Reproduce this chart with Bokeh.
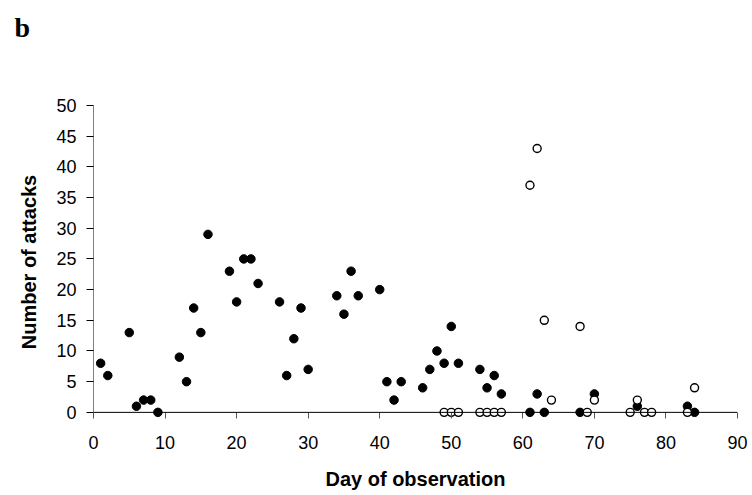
from bokeh.plotting import figure
from bokeh.models import (Range1d, SingleIntervalTicker, Span, ColumnDataSource,
                          Title)
from bokeh.embed import file_html
from bokeh.resources import INLINE

# Data
filled_days = [1, 2, 5, 6, 7, 8, 9, 12, 13, 14, 15, 16, 19, 20, 21, 22, 23,
               26, 27, 28, 29, 30, 34, 35, 36, 37, 40, 41, 42, 43, 46, 47, 48,
               49, 50, 51, 54, 55, 56, 57, 61, 62, 63, 68, 70, 76, 83, 84]
filled_attacks = [8, 6, 13, 1, 2, 2, 0, 9, 5, 17, 13, 29, 23, 18, 25, 25, 21,
                  18, 6, 12, 17, 7, 19, 16, 23, 19, 20, 5, 2, 5, 4, 7, 10,
                  8, 14, 8, 7, 4, 6, 3, 0, 3, 0, 0, 3, 1, 1, 0]
open_days = [49, 50, 51, 54, 55, 56, 57, 61, 62, 63, 64, 68, 69, 70, 75, 76,
             77, 78, 83, 84]
open_attacks = [0, 0, 0, 0, 0, 0, 0, 37, 43, 15, 2, 14, 0, 2, 0, 2, 0, 0, 0, 4]

x_title = "Day of observation"
y_title = "Number of attacks"
panel_letter = "b"

FONT = "Liberation Sans"

p = figure(width=752, height=495, output_backend="svg", toolbar_location=None,
           x_range=Range1d(0, 90), y_range=Range1d(-1, 50),
           min_border_left=93, min_border_right=15, min_border_top=105,
           min_border_bottom=77, title=None)
p.outline_line_color = None
p.grid.grid_line_color = None
p.background_fill_color = "white"
p.border_fill_color = "white"

# spacer title next to the frame, then the panel letter further out
p.add_layout(Title(text=" ", text_font_size="10px", standoff=39,
                   text_color="white"), "above")
p.add_layout(Title(text=panel_letter, text_font="Liberation Serif",
                   text_font_size="28px", text_font_style="bold",
                   text_color="black", align="left", vertical_align="top",
                   offset=-79, standoff=18), "above")

# x axis (drawn at frame bottom = -1; ticks reach up to y=0)
xa = p.xaxis[0]
xa.ticker = SingleIntervalTicker(interval=10)
xa.bounds = (0, 90)
xa.axis_line_color = None
xa.major_tick_line_color = "#555555"
xa.major_tick_in = 6
xa.major_tick_out = 0
xa.minor_tick_line_color = None
xa.major_label_text_font = FONT
xa.major_label_text_font_size = "18px"
xa.major_label_text_color = "black"
xa.major_label_standoff = 13
xa.axis_label = x_title
xa.axis_label_text_font = FONT
xa.axis_label_text_font_size = "20px"
xa.axis_label_text_font_style = "bold"
xa.axis_label_text_color = "black"
xa.axis_label_standoff = 16

# y axis
ya = p.yaxis[0]
ya.ticker = SingleIntervalTicker(interval=5)
ya.bounds = (0, 50)
ya.axis_line_color = "#808080"
ya.axis_line_width = 1
ya.major_tick_line_color = "black"
ya.major_tick_in = 0
ya.major_tick_out = 7
ya.minor_tick_line_color = None
ya.major_label_text_font = FONT
ya.major_label_text_font_size = "18px"
ya.major_label_text_color = "black"
ya.major_label_standoff = 10
ya.axis_label = y_title
ya.axis_label_text_font = FONT
ya.axis_label_text_font_size = "20px"
ya.axis_label_text_font_style = "bold"
ya.axis_label_text_color = "black"
ya.axis_label_standoff = 13

# horizontal axis line at y = 0
p.add_layout(Span(location=0, dimension="width", line_color="black",
                  line_width=1))

src_f = ColumnDataSource(dict(x=filled_days, y=filled_attacks))
src_o = ColumnDataSource(dict(x=open_days, y=open_attacks))

p.scatter("x", "y", source=src_f, marker="circle", size=8.5,
          fill_color="black", line_color="black", line_width=1)
p.scatter("x", "y", source=src_o, marker="circle", size=8,
          fill_color="white", line_color="black", line_width=1.4)

open("out.html", "w").write(file_html(p, INLINE))
